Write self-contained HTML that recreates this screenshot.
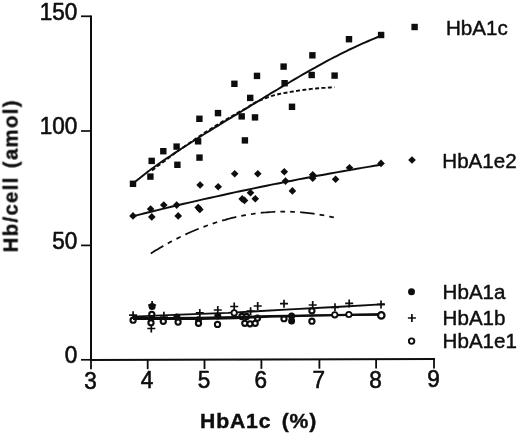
<!DOCTYPE html>
<html><head><meta charset="utf-8"><title>HbA1c chart</title>
<style>
html,body{margin:0;padding:0;background:#fff;}
body{width:520px;height:435px;overflow:hidden;}
svg{display:block;}
text{font-family:"Liberation Sans",sans-serif;fill:#0c0c0c;}
text{stroke:#0c0c0c;stroke-width:0.45px;stroke-linejoin:round;}
.t{font-size:23px;stroke-width:0.6px;}
.lg{font-size:21px;}
.b{font-weight:bold;stroke-width:0.4px;}
.bx{font-size:20px;letter-spacing:0.8px;word-spacing:3.4px;}
.by{font-size:20.2px;letter-spacing:1.4px;word-spacing:1.2px;}
</style></head><body>
<svg width="520" height="435" viewBox="0 0 520 435">
<rect width="520" height="435" fill="#fff"/>
<g filter="url(#bl)">
<defs><filter id="bl" x="-5%" y="-5%" width="110%" height="110%"><feGaussianBlur stdDeviation="0.45"/></filter></defs>

<g stroke="#0c0c0c" stroke-width="2" fill="none" stroke-linecap="butt">
<path d="M91,15.4 V359.9 L435,359.0" stroke-linejoin="miter"/>
<path d="M81,16.3 H91" stroke-width="1.7"/>
<path d="M81,131.0 H91" stroke-width="1.7"/>
<path d="M81,245.4 H91" stroke-width="1.7"/>
<path d="M81,359.8 H91" stroke-width="1.7"/>
<path d="M91.0,359.90 V369.30" stroke-width="1.8"/>
<path d="M147.7,359.75 V369.15" stroke-width="1.8"/>
<path d="M204.5,359.60 V369.00" stroke-width="1.8"/>
<path d="M261.4,359.46 V368.86" stroke-width="1.8"/>
<path d="M319.4,359.31 V368.71" stroke-width="1.8"/>
<path d="M376.1,359.16 V368.56" stroke-width="1.8"/>
<path d="M434.0,359.01 V368.41" stroke-width="1.8"/>
</g>
<text class="t" transform="translate(77.3,19.7) scale(0.98,1)" text-anchor="end">150</text>
<text class="t" transform="translate(77.3,134.4) scale(0.98,1)" text-anchor="end">100</text>
<text class="t" transform="translate(77.3,248.8) scale(0.98,1)" text-anchor="end">50</text>
<text class="t" transform="translate(77.3,363.2) scale(0.98,1)" text-anchor="end">0</text>
<text class="t" transform="translate(90.4,388.50) scale(0.98,1)" text-anchor="middle">3</text>
<text class="t" transform="translate(147.1,388.32) scale(0.98,1)" text-anchor="middle">4</text>
<text class="t" transform="translate(203.9,388.14) scale(0.98,1)" text-anchor="middle">5</text>
<text class="t" transform="translate(260.8,387.95) scale(0.98,1)" text-anchor="middle">6</text>
<text class="t" transform="translate(318.8,387.77) scale(0.98,1)" text-anchor="middle">7</text>
<text class="t" transform="translate(375.5,387.59) scale(0.98,1)" text-anchor="middle">8</text>
<text class="t" transform="translate(433.4,387.40) scale(0.98,1)" text-anchor="middle">9</text>
<text class="b bx" transform="translate(258.6,428.3) scale(1.06,1)" text-anchor="middle">HbA1c (%)</text>
<text class="b by" transform="translate(17.6,175.7) rotate(-90)" text-anchor="middle">Hb/cell (amol)</text>
<g fill="#0c0c0c">
<rect x="129.8" y="180.6" width="6.4" height="6.4"/>
<rect x="147.2" y="173.4" width="6.4" height="6.4"/>
<rect x="148.5" y="157.7" width="6.4" height="6.4"/>
<rect x="160.1" y="148.0" width="6.4" height="6.4"/>
<rect x="173.4" y="143.4" width="6.4" height="6.4"/>
<rect x="174.2" y="161.6" width="6.4" height="6.4"/>
<rect x="194.9" y="138.1" width="6.4" height="6.4"/>
<rect x="196.3" y="154.4" width="6.4" height="6.4"/>
<rect x="196.2" y="115.6" width="6.4" height="6.4"/>
<rect x="214.8" y="109.9" width="6.4" height="6.4"/>
<rect x="231.2" y="80.6" width="6.4" height="6.4"/>
<rect x="238.5" y="113.2" width="6.4" height="6.4"/>
<rect x="241.7" y="137.2" width="6.4" height="6.4"/>
<rect x="247.0" y="94.7" width="6.4" height="6.4"/>
<rect x="251.8" y="114.2" width="6.4" height="6.4"/>
<rect x="253.8" y="72.7" width="6.4" height="6.4"/>
<rect x="280.4" y="63.4" width="6.4" height="6.4"/>
<rect x="281.4" y="80.0" width="6.4" height="6.4"/>
<rect x="288.8" y="103.6" width="6.4" height="6.4"/>
<rect x="308.5" y="71.8" width="6.4" height="6.4"/>
<rect x="309.2" y="52.1" width="6.4" height="6.4"/>
<rect x="331.4" y="72.4" width="6.4" height="6.4"/>
<rect x="345.8" y="36.0" width="6.4" height="6.4"/>
<rect x="377.9" y="31.8" width="6.4" height="6.4"/>
<rect x="411.4" y="23.8" width="6.4" height="6.4"/>
<path d="M133.0,212.1 L136.8,215.9 L133.0,219.7 L129.2,215.9Z"/>
<path d="M150.6,205.2 L154.4,209.0 L150.6,212.8 L146.8,209.0Z"/>
<path d="M151.8,213.1 L155.6,216.9 L151.8,220.7 L148.0,216.9Z"/>
<path d="M163.8,201.2 L167.6,205.0 L163.8,208.8 L160.0,205.0Z"/>
<path d="M176.7,201.3 L180.5,205.1 L176.7,208.9 L172.9,205.1Z"/>
<path d="M178.2,212.1 L182.0,215.9 L178.2,219.7 L174.4,215.9Z"/>
<path d="M198.2,203.8 L202.0,207.6 L198.2,211.4 L194.4,207.6Z"/>
<path d="M199.8,205.6 L203.6,209.4 L199.8,213.2 L196.0,209.4Z"/>
<path d="M200.1,181.2 L203.9,185.0 L200.1,188.8 L196.3,185.0Z"/>
<path d="M218.2,182.9 L222.0,186.7 L218.2,190.5 L214.4,186.7Z"/>
<path d="M234.7,169.9 L238.5,173.7 L234.7,177.5 L230.9,173.7Z"/>
<path d="M242.2,195.1 L246.0,198.9 L242.2,202.7 L238.4,198.9Z"/>
<path d="M244.5,196.6 L248.3,200.4 L244.5,204.2 L240.7,200.4Z"/>
<path d="M250.5,189.0 L254.3,192.8 L250.5,196.6 L246.7,192.8Z"/>
<path d="M255.3,194.9 L259.1,198.7 L255.3,202.5 L251.5,198.7Z"/>
<path d="M257.8,170.0 L261.6,173.8 L257.8,177.6 L254.0,173.8Z"/>
<path d="M284.3,168.0 L288.1,171.8 L284.3,175.6 L280.5,171.8Z"/>
<path d="M285.5,177.3 L289.3,181.1 L285.5,184.9 L281.7,181.1Z"/>
<path d="M292.4,187.1 L296.2,190.9 L292.4,194.7 L288.6,190.9Z"/>
<path d="M312.7,170.9 L316.5,174.7 L312.7,178.5 L308.9,174.7Z"/>
<path d="M312.7,174.4 L316.5,178.2 L312.7,182.0 L308.9,178.2Z"/>
<path d="M335.6,175.5 L339.4,179.3 L335.6,183.1 L331.8,179.3Z"/>
<path d="M349.5,164.0 L353.3,167.8 L349.5,171.6 L345.7,167.8Z"/>
<path d="M381.0,159.6 L384.8,163.4 L381.0,167.2 L377.2,163.4Z"/>
<path d="M412.0,156.2 L415.8,160.0 L412.0,163.8 L408.2,160.0Z"/>
<circle cx="152.1" cy="306.5" r="3.5"/>
<circle cx="176.9" cy="316.9" r="3.5"/>
<circle cx="198.5" cy="319.8" r="3.5"/>
<circle cx="217.8" cy="316.0" r="3.5"/>
<circle cx="291.6" cy="316.0" r="3.5"/>
<circle cx="291.6" cy="321.0" r="3.5"/>
<circle cx="411.5" cy="291.7" r="3.5"/>
</g>
<g stroke="#0c0c0c" stroke-width="1.7" fill="none">
<path d="M129.1,315.2 H137.1 M133.1,311.2 V319.2"/>
<path d="M148.1,305.0 H156.1 M152.1,301.0 V309.0"/>
<path d="M147.3,328.5 H155.3 M151.3,324.5 V332.5"/>
<path d="M159.9,315.8 H167.9 M163.9,311.8 V319.8"/>
<path d="M195.8,312.9 H203.8 M199.8,308.9 V316.9"/>
<path d="M213.8,310.0 H221.8 M217.8,306.0 V314.0"/>
<path d="M230.2,306.5 H238.2 M234.2,302.5 V310.5"/>
<path d="M246.6,311.2 H254.6 M250.6,307.2 V315.2"/>
<path d="M253.7,306.0 H261.7 M257.7,302.0 V310.0"/>
<path d="M280.0,303.7 H288.0 M284.0,299.7 V307.7"/>
<path d="M308.7,305.0 H316.7 M312.7,301.0 V309.0"/>
<path d="M331.0,307.3 H339.0 M335.0,303.3 V311.3"/>
<path d="M345.2,303.4 H353.2 M349.2,299.4 V307.4"/>
<path d="M377.0,304.4 H385.0 M381.0,300.4 V308.4"/>
<path d="M407.9,318.0 H415.9 M411.9,314.0 V322.0"/>
</g>
<g fill="#fff" stroke="#0c0c0c" stroke-width="1.8">
<circle cx="133.1" cy="320.2" r="2.6" stroke-width="2.1"/>
<circle cx="151.8" cy="314.4" r="2.6" stroke-width="2.1"/>
<circle cx="151.0" cy="322.7" r="2.6" stroke-width="2.1"/>
<circle cx="163.3" cy="321.3" r="2.6" stroke-width="2.1"/>
<circle cx="178.1" cy="322.1" r="2.6" stroke-width="2.1"/>
<circle cx="198.5" cy="323.3" r="2.6" stroke-width="2.1"/>
<circle cx="217.5" cy="324.4" r="2.6" stroke-width="2.1"/>
<circle cx="241.9" cy="316.5" r="2.6" stroke-width="2.1"/>
<circle cx="246.5" cy="316.5" r="2.6" stroke-width="2.1"/>
<circle cx="244.8" cy="323.3" r="2.6" stroke-width="2.1"/>
<circle cx="250.0" cy="323.8" r="2.6" stroke-width="2.1"/>
<circle cx="255.2" cy="323.3" r="2.6" stroke-width="2.1"/>
<circle cx="257.5" cy="318.1" r="2.6" stroke-width="2.1"/>
<circle cx="284.0" cy="318.7" r="2.6" stroke-width="2.1"/>
<circle cx="311.9" cy="310.8" r="2.6" stroke-width="2.1"/>
<circle cx="311.9" cy="321.2" r="2.6" stroke-width="2.1"/>
<circle cx="411.6" cy="341.1" r="2.75" stroke-width="1.9"/>
</g>
<g stroke="#0c0c0c" stroke-width="1.95" fill="none">
<path d="M133.0,183.6 L136.1,181.0 L139.3,178.5 L142.4,176.0 L145.6,173.5 L148.7,171.1 L151.8,168.8 L155.0,166.5 L158.1,164.2 L161.3,162.0 L164.4,159.9 L167.5,157.8 L170.7,155.7 L173.8,153.6 L176.9,151.6 L180.1,149.5 L183.2,147.5 L186.4,145.5 L189.5,143.5 L192.6,141.5 L195.8,139.5 L198.9,137.5 L202.1,135.5 L205.2,133.5 L208.3,131.6 L211.5,129.6 L214.6,127.7 L217.8,125.8 L220.9,123.8 L224.0,121.9 L227.2,120.0 L230.3,118.1 L233.5,116.2 L236.6,114.3 L239.7,112.4 L242.9,110.5 L246.0,108.6 L249.2,106.7 L252.3,104.7 L255.4,102.8 L258.6,100.9 L261.7,99.0 L264.8,97.1 L268.0,95.2 L271.1,93.2 L274.3,91.3 L277.4,89.5 L280.5,87.6 L283.7,85.7 L286.8,83.8 L290.0,82.0 L293.1,80.1 L296.2,78.3 L299.4,76.5 L302.5,74.7 L305.7,72.9 L308.8,71.1 L311.9,69.3 L315.1,67.6 L318.2,65.8 L321.4,64.1 L324.5,62.4 L327.6,60.7 L330.8,59.0 L333.9,57.4 L337.1,55.8 L340.2,54.2 L343.3,52.6 L346.5,51.1 L349.6,49.5 L352.7,48.1 L355.9,46.6 L359.0,45.1 L362.2,43.7 L365.3,42.3 L368.4,41.0 L371.6,39.6 L374.7,38.3 L377.9,37.0 L381.0,35.7"/>
<path d="M133.0,216.2 L139.4,214.6 L145.7,213.0 L152.1,211.5 L158.4,209.9 L164.8,208.4 L171.2,206.8 L177.5,205.3 L183.9,203.8 L190.2,202.4 L196.6,200.9 L202.9,199.4 L209.3,198.0 L215.7,196.6 L222.0,195.2 L228.4,193.8 L234.7,192.4 L241.1,191.0 L247.5,189.7 L253.8,188.4 L260.2,187.0 L266.5,185.7 L272.9,184.4 L279.3,183.2 L285.6,181.9 L292.0,180.7 L298.3,179.4 L304.7,178.2 L311.1,177.0 L317.4,175.8 L323.8,174.7 L330.1,173.5 L336.5,172.4 L342.8,171.2 L349.2,170.1 L355.6,169.0 L361.9,167.9 L368.3,166.9 L374.6,165.8 L381.0,164.8"/>
<path d="M152.0,170.5 L154.3,168.7 L156.6,166.9 L158.9,165.2 L161.2,163.5 L163.6,161.7 L165.9,160.0 L168.2,158.3 L170.5,156.6 L172.8,154.8 L175.1,153.1 L177.4,151.5 L179.7,149.8 L182.0,148.2 L184.4,146.6 L186.7,144.9 L189.0,143.4 L191.3,141.8 L193.6,140.2 L195.9,138.6 L198.2,137.0 L200.5,135.5 L202.9,133.9 L205.2,132.4 L207.5,130.9 L209.8,129.5 L212.1,128.0 L214.4,126.6 L216.7,125.1 L219.0,123.7 L221.3,122.3 L223.7,120.9 L226.0,119.6 L228.3,118.2 L230.6,116.9 L232.9,115.5 L235.2,114.2 L237.5,112.9 L239.8,111.6 L242.1,110.4 L244.5,109.1 L246.8,107.8 L249.1,106.3 L251.4,104.7 L253.7,103.3 L256.0,102.1 L258.3,101.1 L260.6,100.1 L262.9,99.2 L265.3,98.3 L267.6,97.4 L269.9,96.6 L272.2,95.8 L274.5,95.1 L276.8,94.6 L279.1,94.0 L281.4,93.6 L283.7,93.1 L286.1,92.7 L288.4,92.3 L290.7,91.9 L293.0,91.5 L295.3,91.1 L297.6,90.8 L299.9,90.4 L302.2,90.1 L304.6,89.8 L306.9,89.5 L309.2,89.2 L311.5,88.9 L313.8,88.7 L316.1,88.5 L318.4,88.3 L320.7,88.1 L323.0,87.9 L325.4,87.8 L327.7,87.6 L330.0,87.5 L332.3,87.4 L334.6,87.3" stroke-dasharray="4 2.4" stroke-width="1.9"/>
<path d="M150.8,253.4 L153.1,252.0 L155.4,250.5 L157.8,249.2 L160.1,247.8 L162.4,246.4 L164.7,245.1 L167.1,243.8 L169.4,242.6 L171.7,241.3 L174.0,240.1 L176.4,238.9 L178.7,237.7 L181.0,236.6 L183.3,235.5 L185.7,234.4 L188.0,233.3 L190.3,232.3 L192.6,231.3 L195.0,230.3 L197.3,229.3 L199.6,228.4 L201.9,227.5 L204.3,226.6 L206.6,225.7 L208.9,224.9 L211.2,224.1 L213.5,223.3 L215.9,222.5 L218.2,221.8 L220.5,221.1 L222.8,220.4 L225.2,219.8 L227.5,219.1 L229.8,218.5 L232.1,217.9 L234.5,217.4 L236.8,216.8 L239.1,216.3 L241.4,215.9 L243.8,215.4 L246.1,215.0 L248.4,214.6 L250.7,214.2 L253.1,213.9 L255.4,213.5 L257.7,213.2 L260.0,213.0 L262.4,212.7 L264.7,212.5 L267.0,212.3 L269.3,212.1 L271.7,212.0 L274.0,211.8 L276.3,211.7 L278.6,211.7 L280.9,211.6 L283.3,211.6 L285.6,211.6 L287.9,211.7 L290.2,211.7 L292.6,211.8 L294.9,211.9 L297.2,212.0 L299.5,212.2 L301.9,212.4 L304.2,212.6 L306.5,212.8 L308.8,213.1 L311.2,213.4 L313.5,213.7 L315.8,214.0 L318.1,214.4 L320.5,214.8 L322.8,215.2 L325.1,215.6 L327.4,216.1 L329.8,216.6 L332.1,217.1 L334.4,217.6" stroke-dasharray="14.6 5.1 4.7 5.1 4.7 5.2" stroke-width="1.75"/>
<path d="M133.0,316.60 L180.0,314.60 L228.0,312.90 L257.0,311.20 L290.0,309.40 L340.0,306.70 L381.0,304.40 L384.5,304.20" stroke-width="1.9" stroke-linejoin="round"/>
<path d="M133.0,318.00 L165.0,318.00 L200.0,317.90 L235.0,317.10 L270.0,315.95 L290.0,315.80 L320.0,315.27 L350.0,314.68 L378.0,314.38" stroke-width="2.1" stroke-linejoin="round"/>
<path d="M133.0,319.00 L165.0,319.00 L200.0,318.90 L235.0,318.10 L270.0,316.65 L290.0,316.20 L320.0,315.52 L350.0,314.93 L378.0,314.62" stroke-width="2.1" stroke-linejoin="round"/>
</g>
<g fill="#fff" stroke="#0c0c0c" stroke-width="1.8">
<circle cx="234.2" cy="312.9" r="2.7"/>
<circle cx="334.8" cy="314.8" r="2.7"/>
<circle cx="348.9" cy="314.5" r="2.7"/>
<circle cx="381.3" cy="315.4" r="3.2" stroke-width="2.2"/>
</g>
<text class="lg" transform="translate(446,34.5) scale(0.98,1)">HbA1c</text>
<text class="lg" transform="translate(442.3,167.5) scale(0.98,1)">HbA1e2</text>
<text class="lg" transform="translate(442.6,299.1) scale(0.98,1)">HbA1a</text>
<text class="lg" transform="translate(442.6,325.1) scale(0.98,1)">HbA1b</text>
<text class="lg" transform="translate(442.6,348.4) scale(0.98,1)">HbA1e1</text>
</g></svg></body></html>
